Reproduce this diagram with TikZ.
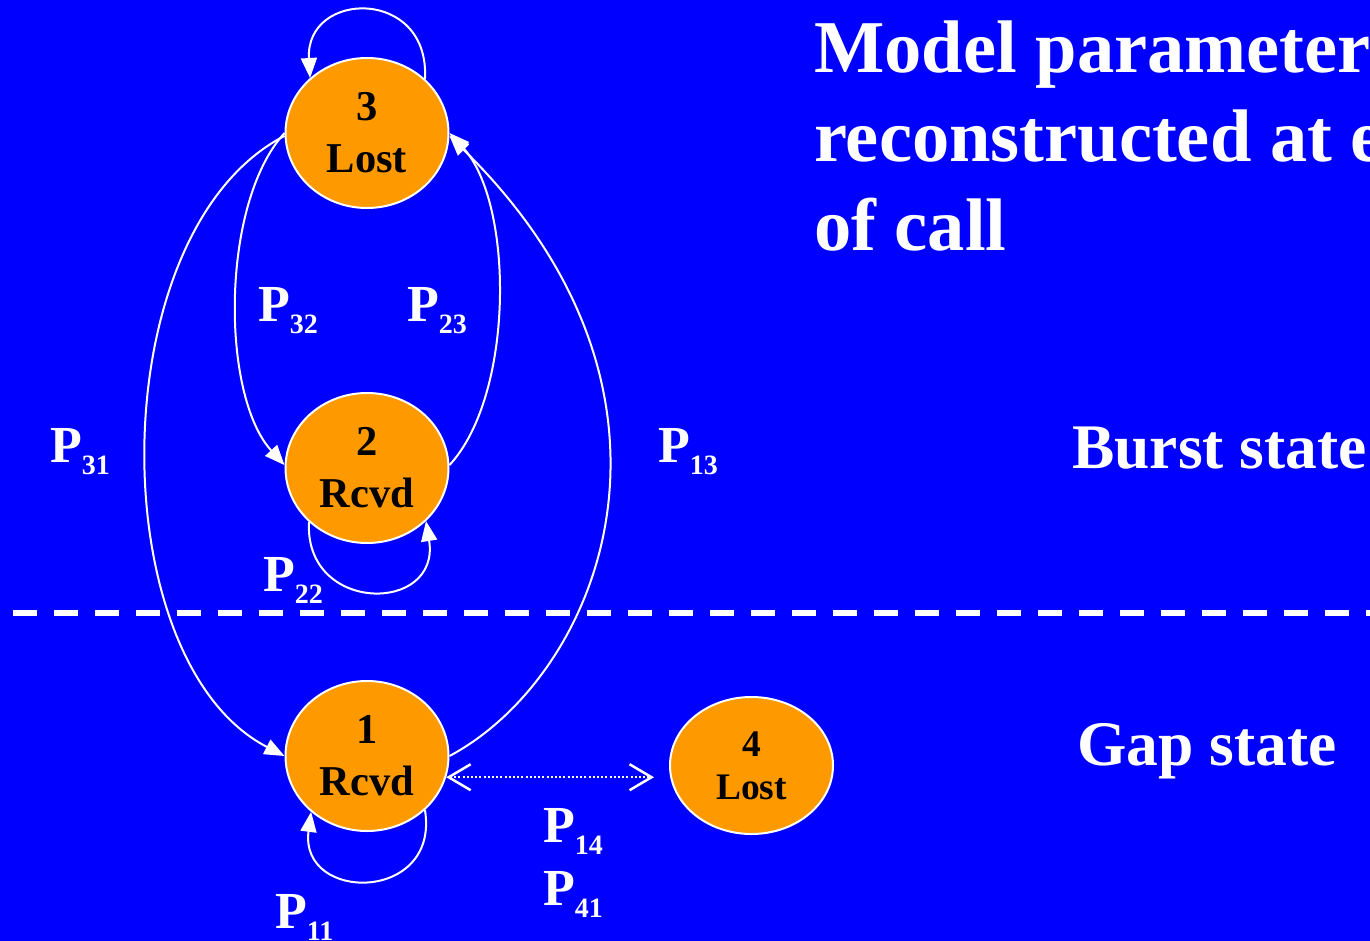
\documentclass[tikz,border=0pt]{standalone}
\usepackage{fontspec}
\setmainfont{Liberation Serif}[BoldFont={Liberation Serif Bold}]
\usetikzlibrary{arrows.meta,shapes.geometric}
\definecolor{bgblue}{RGB}{0,0,255}
\definecolor{stateorange}{RGB}{255,153,0}
\newcommand\plab[1]{{\fontsize{52}{52}\selectfont P}\raisebox{-12pt}{\fontsize{28}{28}\selectfont #1}}
\begin{document}
\begin{tikzpicture}[x=1pt,y=1pt,
  stateshape/.style={ellipse, draw=white, line width=2pt, fill=stateorange, inner sep=0pt,
    align=center, text=black},
  bigstate/.style={stateshape, minimum width=163pt, minimum height=150pt,
    font=\bfseries\fontsize{42.5}{52}\selectfont},
  conn/.style={draw=white, line width=2pt, -{Triangle[length=20pt,width=16pt]}},
  dotconn/.style={draw=white, line width=2.2pt, dash pattern=on 2pt off 2.2pt,
    {Straight Barb[length=22pt,width=26pt,line width=2.5pt]}-{Straight Barb[length=22pt,width=26pt,line width=2.5pt]}},
  lab/.style={text=white, inner sep=0pt, anchor=base west, font=\bfseries},
  sidetext/.style={text=white, inner sep=0pt, anchor=base west, font=\bfseries\fontsize{63.5}{63.5}\selectfont}
]
\clip (0,0) rectangle (1370,-941);
\fill[bgblue] (0,0) rectangle (1370,-941);

% separator
\draw[white, line width=6pt, dash pattern=on 24pt off 17pt] (13,-613) -- (1370,-613);

% states
\node[bigstate] (n3) at (367,-133) {3\\Lost};
\node[bigstate] (n2) at (367,-468) {2\\Rcvd};
\node[bigstate] (n1) at (367,-756) {1\\Rcvd};
\node[stateshape, minimum width=163pt, minimum height=137pt,
  font=\bfseries\fontsize{37.5}{43}\selectfont] (n4) at (751.5,-765.5) {4\\Lost};

% connectors
\draw[conn] (n3.43) .. controls +(5,92) and +(-5,88) .. (n3.136);
\draw[conn] (n3.180) .. controls +(-64,-70) and +(-64,70) .. (n2.178);
\draw[conn] (n2.2) .. controls +(65,70) and +(65,-70) .. (n3.0);
\draw[conn] (n3.182) .. controls +(-184,-95) and +(-184,95) .. (n1.180);
\draw[conn] (n1.0) .. controls +(150,80) and +(265,-260) .. (n3.358);
\draw[conn] (n2.223) .. controls +(-5,-92) and +(15,-93) .. (n2.318);
\draw[conn] (n1.317) .. controls +(15,-93) and +(-12,-91) .. (n1.225);
\draw[dotconn, shorten >=15pt] (n1.345) -- (n1.345 -| n4.west);

% labels
\node[lab] (l32) at (258,-321) {\plab{32}};
\node[lab] (l23) at (407,-321) {\plab{23}};
\node[lab] (l31) at (50,-462) {\plab{31}};
\node[lab] (l13) at (658,-462) {\plab{13}};
\node[lab] (l22) at (263,-591) {\plab{22}};
\node[lab] (l14) at (543,-842) {\plab{14}};
\node[lab] (l41) at (543,-905) {\plab{41}};
\node[lab] (l11) at (275,-928) {\plab{11}};

% texts
\node[text=white, inner sep=0pt, anchor=north west, align=left,
  font=\bfseries\fontsize{74.5}{89}\selectfont] (title) at (814,-21)
  {Model parameters\\reconstructed at end\\of call};
\node[sidetext] (burst) at (1072,-468) {Burst state};
\node[sidetext] (gap) at (1077,-765) {Gap state};
\end{tikzpicture}
\end{document}
